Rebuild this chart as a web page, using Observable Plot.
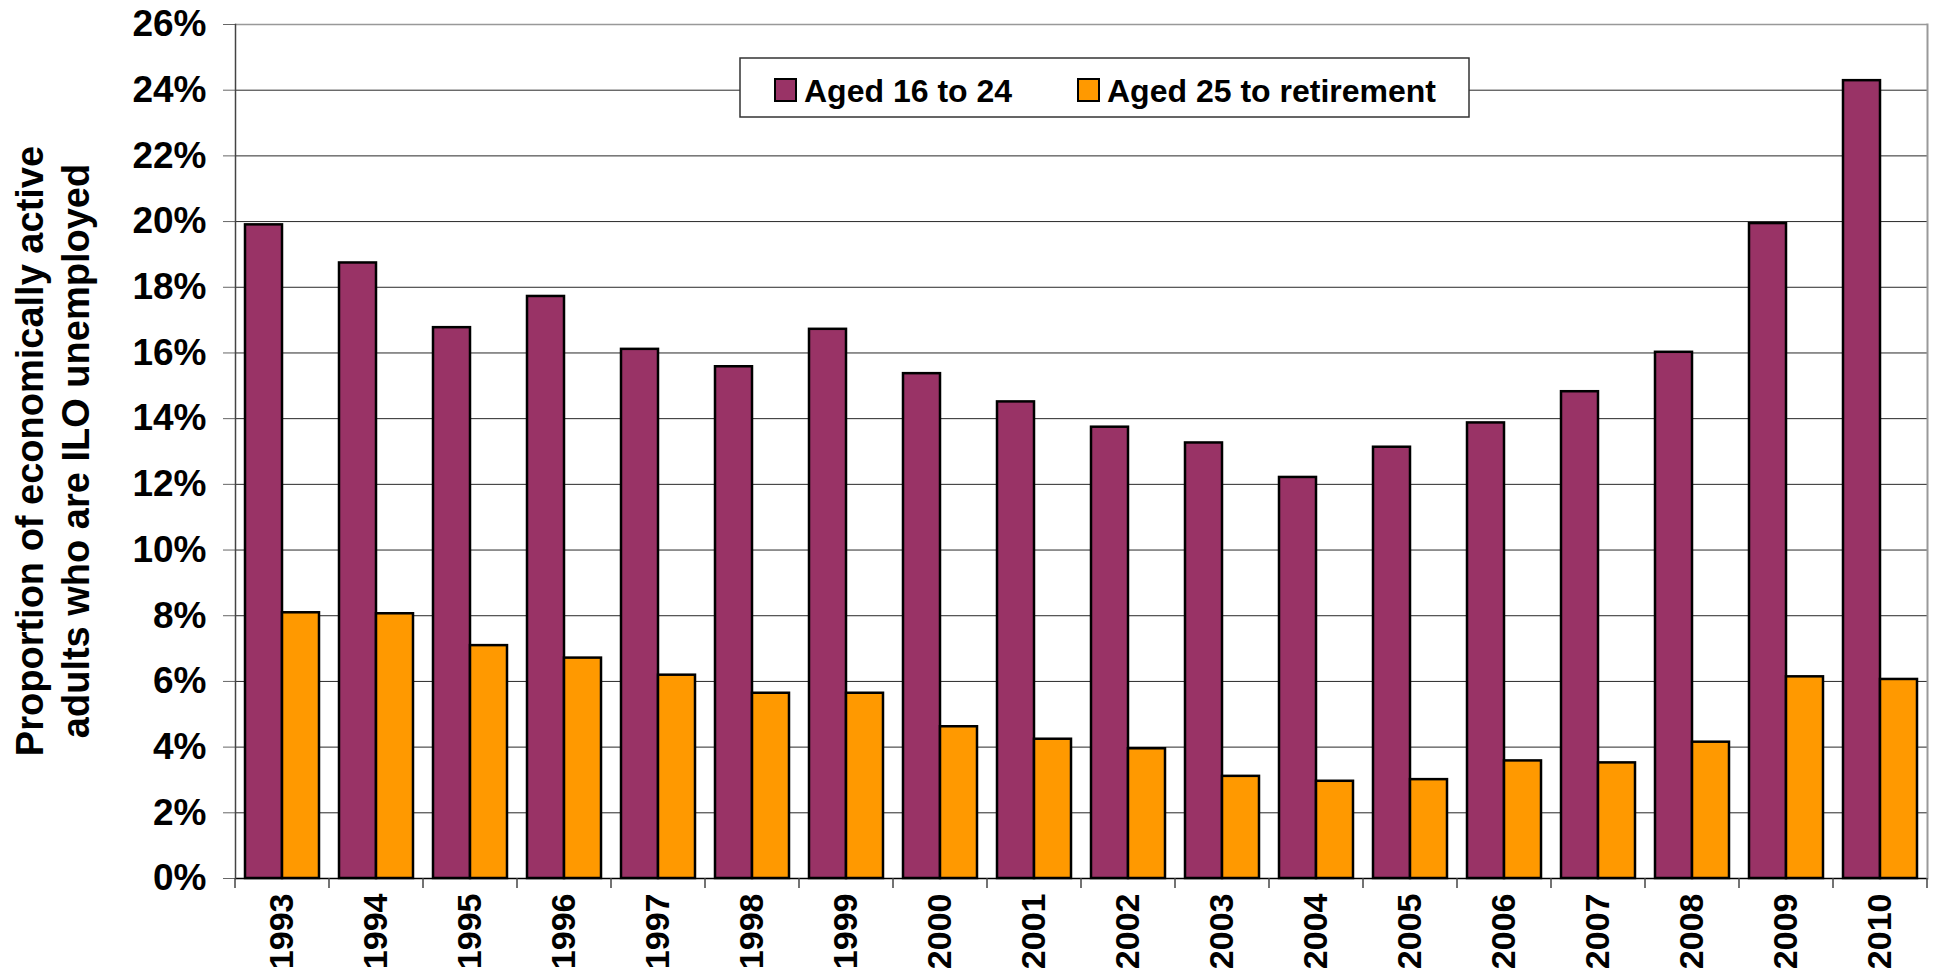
<!DOCTYPE html>
<html><head><meta charset="utf-8">
<script src="https://cdn.jsdelivr.net/npm/d3@7"></script>
<script src="https://cdn.jsdelivr.net/npm/@observablehq/plot@0.6"></script>
<style>
html,body{margin:0;padding:0;background:#fff;}
#chart{position:relative;width:1935px;height:968px;overflow:hidden;}
</style></head><body><div id="chart"></div>
<script>
const years = ["1993","1994","1995","1996","1997","1998","1999","2000","2001","2002","2003","2004","2005","2006","2007","2008","2009","2010"];
const series = ["Aged 16 to 24", "Aged 25 to retirement"];
const colors = ["#993366", "#FF9900"];
const aged16to24 = [19.9, 18.74, 16.77, 17.72, 16.11, 15.58, 16.72, 15.37, 14.51, 13.74, 13.26, 12.21, 13.13, 13.87, 14.82, 16.02, 19.94, 24.29];
const aged25toRetirement = [8.09, 8.06, 7.09, 6.71, 6.19, 5.64, 5.64, 4.62, 4.24, 3.95, 3.11, 2.96, 3.01, 3.58, 3.52, 4.15, 6.14, 6.06];
const yTicks = [0,2,4,6,8,10,12,14,16,18,20,22,24,26];
const yTitle = ["Proportion of economically active", "adults who are ILO unemployed"];

const W = 1935, H = 968, mL = 229, mR = 2, mT = 24, mB = 90;
const font = "'Liberation Sans', Arial, Helvetica, sans-serif";
const table = years.flatMap((y, i) => [
  {year: y, series: series[0], value: aged16to24[i]},
  {year: y, series: series[1], value: aged25toRetirement[i]}
]);

const plot = Plot.plot({
  width: W, height: H,
  marginLeft: mL, marginRight: mR, marginTop: mT, marginBottom: mB,
  style: {fontFamily: font, background: "#fff", color: "#000", overflow: "visible"},
  fx: {domain: years, padding: 0, label: null},
  x: {domain: series, paddingInner: 0, paddingOuter: 0.25, axis: null},
  y: {domain: [0, 26], axis: null},
  color: {domain: series, range: colors},
  marks: [
    Plot.gridY(yTicks.filter(t => t > 0 && t < 26), {stroke: "#111", strokeOpacity: 0.9, strokeWidth: 1}),
    Plot.ruleY([26], {stroke: "#999", strokeWidth: 1.5}),
    Plot.barY(table, {fx: "year", x: "series", y: "value", fill: "series", stroke: "#000", strokeWidth: 2.5}),
    Plot.ruleY([0], {stroke: "#000", strokeWidth: 1.5}),
    Plot.axisY({ticks: yTicks, tickFormat: d => d + "%", tickSize: 12, tickPadding: 17, fontSize: 37, fontWeight: "bold", stroke: "#666", label: null}),
    Plot.axisFx({anchor: "bottom", tickSize: 0, tickPadding: 15, tickRotate: -90, fontSize: 34, fontWeight: "bold", label: null}),
    Plot.frame({anchor: "left", facetAnchor: "left", stroke: "#444", strokeWidth: 1.5}),
    Plot.frame({anchor: "right", facetAnchor: "right", stroke: "#999", strokeWidth: 2})
  ]
});

document.getElementById("chart").appendChild(plot);

const svg = d3.select(plot);
const fx = plot.scale("fx");
const ys = plot.scale("y");
const y0 = ys.apply(0);
const bounds = years.map(y => fx.apply(y)).concat([fx.apply(years[years.length - 1]) + fx.bandwidth]);
svg.append("g").attr("aria-label", "category ticks")
  .selectAll("line").data(bounds).join("line")
  .attr("x1", d => d).attr("x2", d => d)
  .attr("y1", y0).attr("y2", y0 + 10)
  .attr("stroke", "#444").attr("stroke-width", 1.5);

// y axis title
const tg = svg.append("g").attr("aria-label", "y title")
  .attr("font-family", font).attr("font-size", 38).attr("font-weight", "bold")
  .attr("text-anchor", "middle").attr("fill", "#000");
const yMid = (ys.apply(0) + ys.apply(26)) / 2;
yTitle.forEach((t, i) => {
  tg.append("text").attr("transform", `translate(${43 + i * 46},${yMid}) rotate(-90)`).text(t);
});

// legend
const lg = svg.append("g").attr("aria-label", "legend")
  .attr("font-family", font).attr("font-size", 32).attr("font-weight", "bold")
  .attr("text-anchor", "start");
lg.append("rect").attr("x", 740).attr("y", 58).attr("width", 729).attr("height", 59)
  .attr("fill", "#fff").attr("stroke", "#333").attr("stroke-width", 1.5);
const itemX = [775, 1078];
series.forEach((s, i) => {
  lg.append("rect").attr("x", itemX[i]).attr("y", 79).attr("width", 21).attr("height", 22)
    .attr("fill", colors[i]).attr("stroke", "#000").attr("stroke-width", 2);
  lg.append("text").attr("x", itemX[i] + 29).attr("y", 102).attr("fill", "#000").attr("text-anchor", "start").text(s);
});
</script>
</body></html>
